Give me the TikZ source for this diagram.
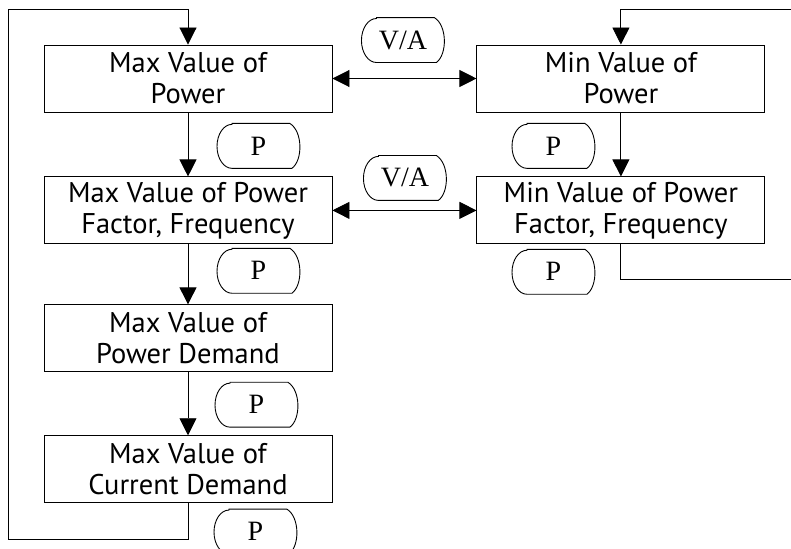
\documentclass[tikz,border=0pt]{standalone}
\usepackage{fontspec}
\setmainfont{Liberation Serif}
\setsansfont{PT Sans}
\usetikzlibrary{positioning,arrows.meta}

\begin{document}
\begin{tikzpicture}[
    x=1pt, y=-1pt,
    line width=0.9pt,
    box/.style={
        draw,
        align=center,
        minimum width=288pt,
        minimum height=67pt,
        inner sep=0pt,
        font=\sffamily\fontsize{28.5}{31}\selectfont
    },
    key/.style={
        minimum width=82pt,
        minimum height=44pt,
        inner sep=0pt,
        font=\fontsize{28}{30}\selectfont
    },
    line/.style={-{Triangle[length=17pt,width=17pt]}},
    both/.style={{Triangle[length=17pt,width=17pt]}-{Triangle[length=17pt,width=17pt]}}
]
\useasboundingbox (0,0) rectangle (791,548);
\clip (0,0) rectangle (791,548);

\node[box] (maxp) at (188,78.5) {Max Value of\\Power};
\node[box, below=64pt of maxp] (maxpf) {Max Value of Power\\Factor, Frequency};
\node[box, below=60pt of maxpf] (maxpd) {Max Value of\\Power Demand};
\node[box, below=63pt of maxpd] (maxcd) {Max Value of\\Current Demand};

\node[box, right=144pt of maxp] (minp) {Min Value of\\Power};
\node[box, right=144pt of maxpf] (minpf) {Min Value of Power\\Factor, Frequency};

% keys
\node[key, above right=16pt and 29pt of maxp.east] (va1) {V/A};
\node[key, above right=10pt and 31pt of maxpf.east] (va2) {V/A};
\node[key, below right=11pt and 29pt of maxp.south] (p1) {P};
\node[key, below right=4pt and 29pt of maxpf.south] (p2) {P};
\node[key, below right=10pt and 27pt of maxpd.south] (p3) {P};
\node[key, below right=6pt and 26pt of maxcd.south] (p4) {P};
\node[key, below left=11pt and 26pt of minp.south] (p5) {P};
\node[key, below left=5pt and 26pt of minpf.south] (p6) {P};

\foreach \k in {va1,va2,p1,p2,p3,p4,p5,p6}
  \draw[line width=0.9pt] ([xshift=15pt]\k.north west) -- ([xshift=-10pt]\k.north east)
    .. controls ([xshift=3pt,yshift=-8pt]\k.north east) and ([xshift=3pt,yshift=8pt]\k.south east) .. ([xshift=-8pt]\k.south east)
    -- ([xshift=15pt]\k.south west)
    arc[start angle=270, end angle=90, x radius=15pt, y radius=22pt] -- cycle;

% connectors
\coordinate (ltop) at (8,9);
\coordinate (rtop) at (800,9);
\coordinate (rbot) at (800,279);

\draw[line] (maxp) -- (maxpf);
\draw[line] (maxpf) -- (maxpd);
\draw[line] (maxpd) -- (maxcd);
\draw[line] (maxcd.south) -- ++(0,36) -| (ltop) -| (maxp.north);

\draw[line] (minp) -- (minpf);
\draw (minpf.south) |- (rbot);
\draw[line] (rtop) -| (minp.north);

\draw[both] (maxp) -- (minp);
\draw[both] (maxpf) -- (minpf);

\end{tikzpicture}
\end{document}
